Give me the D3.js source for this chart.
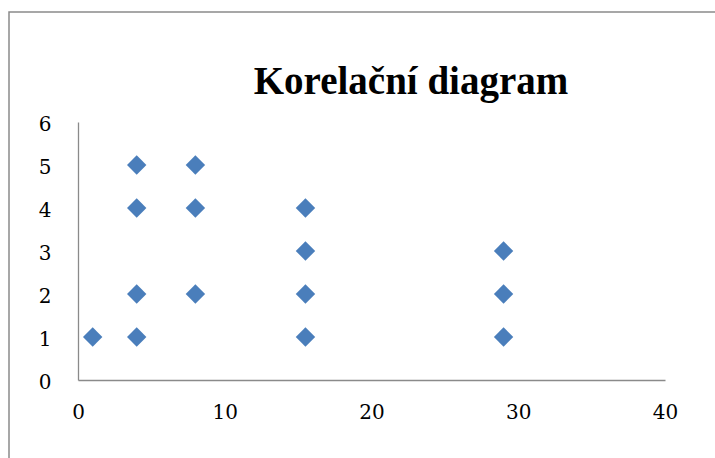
<!DOCTYPE html>
<html><head><meta charset="utf-8">
<script src="https://cdn.jsdelivr.net/npm/d3@7"></script>
<style>html,body{margin:0;padding:0;background:#fff;}svg{display:block;}</style>
</head><body>
<svg id="c" width="715" height="458"></svg>
<script>
const title = "Korelační diagram";
const xValues = [1, 4, 4, 4, 4, 8, 8, 8, 15.5, 15.5, 15.5, 15.5, 29, 29, 29];
const yValues = [1, 1, 2, 4, 5, 2, 4, 5, 1, 2, 3, 4, 1, 2, 3];
const xTicks = [0, 10, 20, 30, 40];
const yTicks = [0, 1, 2, 3, 4, 5, 6];

const svg = d3.select("#c");
svg.append("path").attr("d", "M9,458 V12 H716").attr("fill", "none")
  .attr("stroke", "#8a8a8a").attr("stroke-width", 1.5);

const x = d3.scaleLinear().domain([0, 40]).range([78, 665]);
const y = d3.scaleLinear().domain([0, 6]).range([380, 122]);

svg.append("text").attr("x", 411).attr("y", 94).attr("text-anchor", "middle")
  .attr("font-family", "Liberation Serif, serif").attr("font-weight", "bold")
  .attr("font-size", 39).attr("fill", "#000").text(title);

const xAxis = svg.append("g").attr("transform", "translate(0,380)")
  .call(d3.axisBottom(x).tickValues(xTicks).tickFormat(d3.format("d")).tickSize(0).tickPadding(27));
const yAxis = svg.append("g").attr("transform", "translate(78,0)")
  .call(d3.axisLeft(y).tickValues(yTicks).tickFormat(d3.format("d")).tickSize(0).tickPadding(26));
[xAxis, yAxis].forEach(a => {
  a.select(".domain").attr("stroke", "#8a8a8a").attr("stroke-width", 1.3);
  a.selectAll("text").attr("font-family", "DejaVu Serif, serif")
    .attr("font-size", 20).attr("fill", "#000");
});
yAxis.selectAll("text").attr("text-anchor", "middle").attr("dx", "-7").attr("dy", "0.42em");
xAxis.selectAll("text").attr("dy", "0.6em");

const sym = d3.symbol().type(d3.symbolDiamond2).size(240);
svg.append("g").selectAll("path").data(xValues.map((v, i) => [v, yValues[i]]))
  .join("path")
  .attr("transform", d => `translate(${x(d[0])},${y(d[1])})`)
  .attr("d", sym).attr("fill", "#4a7ebb");
</script>
</body></html>
